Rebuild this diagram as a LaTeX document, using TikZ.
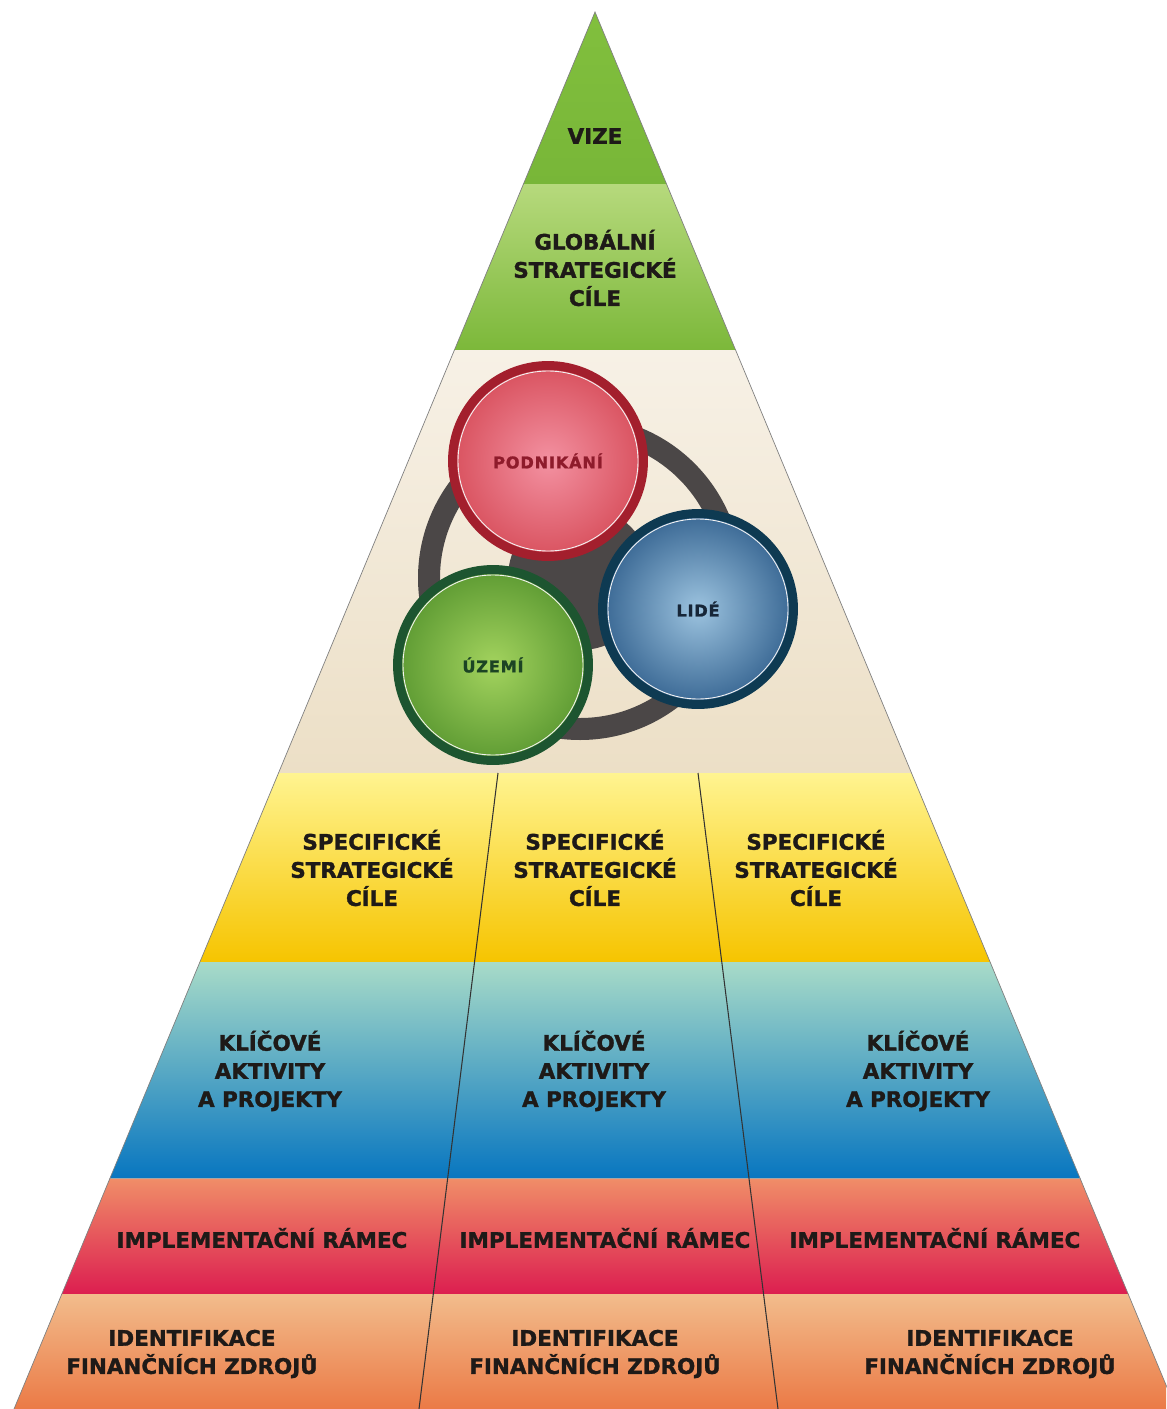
\documentclass[tikz,border=0pt]{standalone}
\usepackage{fontspec}
\setmainfont{DejaVu Sans}[BoldFeatures={FakeBold=1.4}]
\usetikzlibrary{positioning}

\definecolor{inktext}{HTML}{1E1A18}
\definecolor{ringgrey}{HTML}{4B4747}
\definecolor{podring}{HTML}{A31F2D}
\definecolor{podin}{HTML}{F391A1}
\definecolor{podout}{HTML}{D9525F}
\definecolor{podtext}{HTML}{8E1B2B}
\definecolor{lidring}{HTML}{0E3A52}
\definecolor{lidin}{HTML}{9CC3DF}
\definecolor{lidout}{HTML}{3A6894}
\definecolor{lidtext}{HTML}{172638}
\definecolor{uzring}{HTML}{1D5530}
\definecolor{uzin}{HTML}{A3D35E}
\definecolor{uzout}{HTML}{5E9B33}
\definecolor{uztext}{HTML}{1C4424}

\begin{document}
\begin{tikzpicture}[x=0.02cm, y=-0.02cm,
  band/.style={align=center, text=inktext,
    font=\bfseries\fontsize{12.2}{16}\selectfont},
  ball/.style={circle, shade, minimum size=3.82cm, line width=5.1pt,
    font=\bfseries\fontsize{9.2}{11}\selectfont},
  divider/.style={draw=black!80, line width=0.6pt}]
\useasboundingbox (0,0) rectangle (1166,1409);

% Corners
\coordinate (apex) at (595,12);
\coordinate (baseL) at (14,1409);
\coordinate (baseR) at (1176,1409);

% Bands
\begin{scope}
\clip (apex) -- (baseL) -- (baseR) -- cycle;
\shade[top color={rgb,255:red,130;green,192;blue,62}, bottom color={rgb,255:red,120;green,182;blue,56}] (0,0) rectangle (1166,185);
\shade[top color={rgb,255:red,182;green,217;blue,124}, bottom color={rgb,255:red,124;green,184;blue,58}] (0,185) rectangle (1166,350);
\shade[top color={rgb,255:red,247;green,241;blue,230}, bottom color={rgb,255:red,236;green,223;blue,198}] (0,350) rectangle (1166,773);
\shade[top color={rgb,255:red,255;green,244;blue,144}, bottom color={rgb,255:red,246;green,196;blue,0}] (0,773) rectangle (1166,962);
\shade[top color={rgb,255:red,168;green,219;blue,200}, middle color={rgb,255:red,80;green,160;blue,204}, bottom color={rgb,255:red,8;green,118;blue,192}] (0,962) rectangle (1166,1178);
\shade[top color={rgb,255:red,240;green,142;blue,104}, bottom color={rgb,255:red,220;green,30;blue,80}] (0,1178) rectangle (1166,1294);
\shade[top color={rgb,255:red,242;green,188;blue,140}, bottom color={rgb,255:red,235;green,122;blue,70}] (0,1294) rectangle (1166,1409);
\draw[black!35, line width=0.5pt] (0,1178) -- (1166,1178);
\end{scope}
\draw[black!50, line width=0.4pt] (baseL) -- (apex) -- (baseR);

% Dividers
\coordinate (divAtop) at (498,773);
\coordinate (divAbot) at (419,1409);
\coordinate (divBtop) at (698,773);
\coordinate (divBbot) at (778,1409);
\draw[divider] (divAtop) -- (divAbot);
\draw[divider] (divBtop) -- (divBbot);

% Ring behind the circles
\fill[ringgrey] (580,578) circle[radius=72];
\draw[ringgrey, line width=0.44cm] (580,578) circle[radius=151];

% Circles
\node[ball, draw=podring, inner color=podin, outer color=podout, text=podtext] (podnikani) at (548,461) {\addfontfeature{LetterSpace=5}PODNIKÁNÍ};
\node[ball, draw=lidring, inner color=lidin, outer color=lidout, text=lidtext] (lide) at (698,609) {\addfontfeature{LetterSpace=5}LIDÉ};
\node[ball, draw=uzring, inner color=uzin, outer color=uzout, text=uztext] (uzemi) at (493,665) {\addfontfeature{LetterSpace=5}ÚZEMÍ};
\foreach \c in {podnikani,lide,uzemi}
  \draw[white!90!gray, line width=0.5pt] (\c.center) circle[radius=90];

% Labels
\node[band] (vize) at (595,136) {VIZE};
\node[band] (globalni) at (595,268) {GLOBÁLNÍ\\STRATEGICKÉ\\CÍLE};
\foreach \x/\n in {372/a,595/b,816/c}
  \node[band] (spec\n) at (\x,868) {SPECIFICKÉ\\STRATEGICKÉ\\CÍLE};
\foreach \x/\n in {270/a,594/b,918/c}
  \node[band] (klic\n) at (\x,1071) {KLÍČOVÉ\\AKTIVITY\\A PROJEKTY};
\foreach \x/\n in {262/a,605/b,935/c}
  \node[band] (impl\n) at (\x,1238) {IMPLEMENTAČNÍ RÁMEC};
\foreach \x/\n in {192/a,595/b,990/c}
  \node[band] (ident\n) at (\x,1354) {IDENTIFIKACE\\FINANČNÍCH ZDROJŮ};
\end{tikzpicture}
\end{document}
